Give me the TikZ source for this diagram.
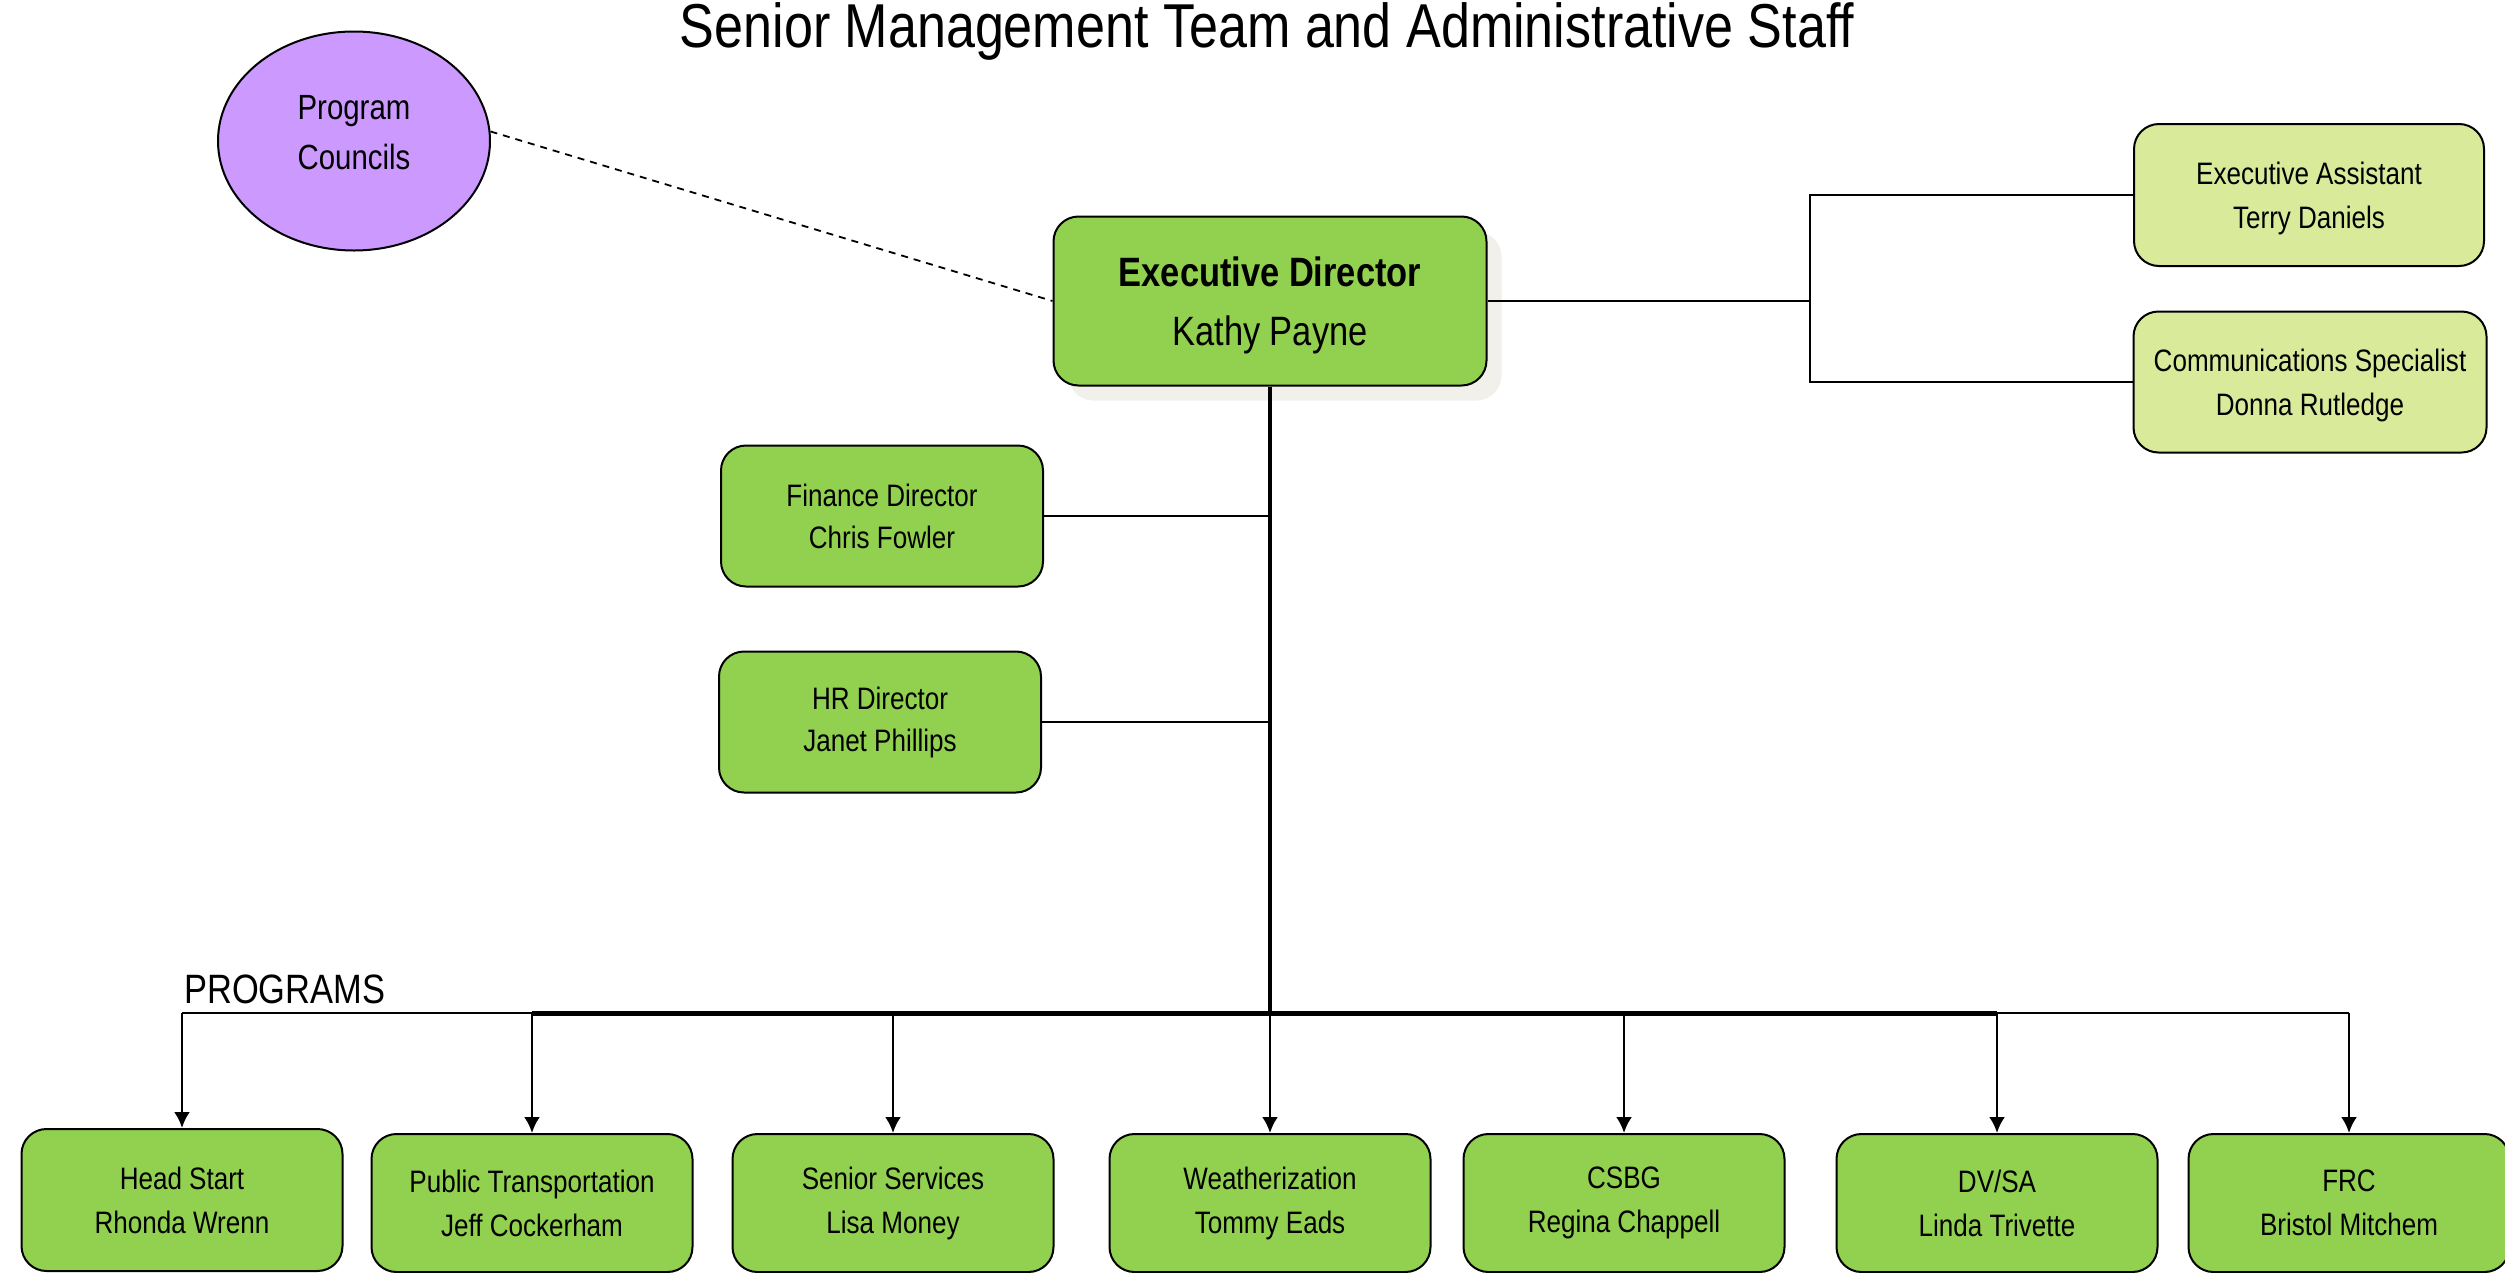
\documentclass[tikz,border=0pt]{standalone}
\usepackage{fontspec}
\setmainfont{Liberation Sans}[FakeStretch=0.84]
\usetikzlibrary{arrows.meta,shadows,shapes.geometric}
\definecolor{boxgreen}{HTML}{92D050}
\definecolor{lightgreen}{HTML}{D9EA9B}
\definecolor{lilac}{HTML}{CC99FF}
\definecolor{shadowc}{HTML}{F1F0EA}
\begin{document}
\begin{tikzpicture}[x=1pt,y=-1pt,
  box/.style={draw=black, line width=2pt, rounded corners=25pt, fill=boxgreen, align=center, inner sep=0pt},
  prog/.style={box, minimum width=321pt, minimum height=138pt, font=\fontsize{31}{44}\selectfont},
  staff/.style={box, minimum width=322pt, minimum height=141pt, font=\fontsize{31}{42}\selectfont},
  asst/.style={box, fill=lightgreen, minimum height=142pt, text depth=0pt, font=\fontsize{31}{44}\selectfont},
  conn/.style={line width=2pt},
  arr/.style={line width=2.6pt, -{Latex[length=16pt,width=16pt]}},
]
\clip (0,0) rectangle (2505,1272);
\fill[white] (0,0) rectangle (2505,1272);

% title
\node[anchor=base, inner sep=0pt, font=\fontsize{62}{62}\selectfont] (title) at (1267,47) {Senior Management Team and Administrative Staff};

% program councils
\node[ellipse, draw=black, line width=2pt, fill=lilac, minimum width=272pt, minimum height=219pt, inner sep=0pt, align=center, text depth=18pt, font=\fontsize{35}{50}\selectfont] (pc) at (354,141) {Program\\Councils};

% executive director
\node[box, minimum width=433pt, minimum height=169pt, text depth=0pt, font=\fontsize{41}{59}\selectfont,
      drop shadow={shadow xshift=15pt, shadow yshift=-15pt, fill=shadowc, opacity=1}] (ed) at (1270,301) {{\bfseries Executive Director}\\Kathy Payne};

% assistants
\node[asst, minimum width=350pt] (ea) at (2309,195) {Executive Assistant\\Terry Daniels};
\node[asst, minimum width=353pt, minimum height=141pt] (cs) at (2310,382) {Communications Specialist\\Donna Rutledge};

% directors
\node[staff] (fin) at (882,516) {Finance Director\\Chris Fowler};
\node[staff] (hr) at (880,722) {HR Director\\Janet Phillips};

% programs label
\node[anchor=base west, inner sep=0pt, font=\fontsize{41}{41}\selectfont] (proglabel) at (184,1003) {PROGRAMS};

% program boxes
\node[prog, minimum height=142pt] (hs) at (182,1200) {Head Start\\Rhonda Wrenn};
\node[prog] (pt) at (532,1203) {Public Transportation\\Jeff Cockerham};
\node[prog] (ss) at (893,1203) {Senior Services\\Lisa Money};
\node[prog] (we) at (1270,1203) {Weatherization\\Tommy Eads};
\node[prog] (csbg) at (1624,1203) {CSBG\\Regina Chappell};
\node[prog] (dv) at (1997,1203) {DV/SA\\Linda Trivette};
\node[prog] (frc) at (2349,1203) {FRC\\Bristol Mitchem};

% connectors
\draw[line width=1.8pt, dash pattern=on 7pt off 6pt] (pc.4) -- (ed.west);

\coordinate (rj) at (1810,301);
\draw[conn] (ed.east) -- (rj);
\draw[conn] (ea.west) -| (rj);
\draw[conn] (cs.west) -| (rj);

\coordinate (busc) at (1270,1013);
\draw[line width=4pt] (ed.south) -- (busc);
\draw[conn] (fin.east) -- (fin.east -| ed.south);
\draw[conn] (hr.east) -- (hr.east -| ed.south);

\coordinate (bhs) at (182,1013);
\coordinate (bpt) at (532,1013);
\coordinate (bss) at (893,1013);
\coordinate (bcsbg) at (1624,1013);
\coordinate (bdv) at (1997,1013);
\coordinate (bfrc) at (2349,1013);
\draw[conn] (bhs) -- (bfrc);
\draw[line width=5pt] (bpt) -- (bdv);

\draw[arr] (bhs) -- (hs.north);
\draw[arr] (bpt) -- (pt.north);
\draw[arr] (bss) -- (ss.north);
\draw[arr] (busc) -- (we.north);
\draw[arr] (bcsbg) -- (csbg.north);
\draw[arr] (bdv) -- (dv.north);
\draw[arr] (bfrc) -- (frc.north);
\end{tikzpicture}
\end{document}
